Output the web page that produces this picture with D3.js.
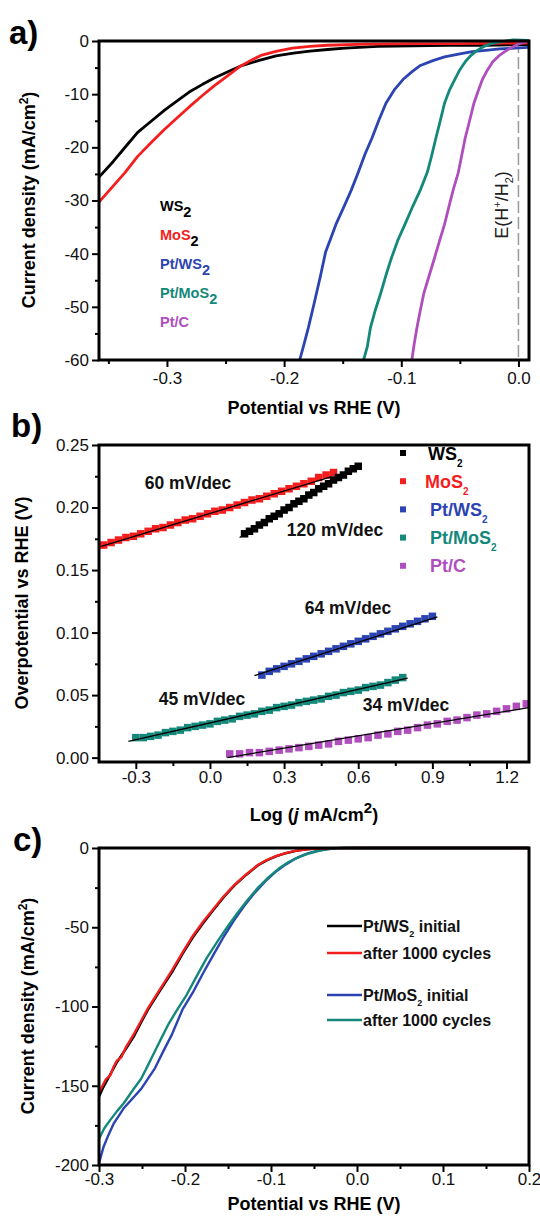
<!DOCTYPE html>
<html><head><meta charset="utf-8">
<script src="https://cdn.jsdelivr.net/npm/d3@7"></script>
<style>
body{margin:0;background:#fff}
svg{display:block}
text{font-family:"Liberation Sans",Arial,Helvetica,sans-serif}
</style>
</head><body>
<svg id="chart" width="540" height="1220"></svg>
<script>
// ================= DATA =================
// ---- Panel a: polarization curves (Potential V vs RHE, current density mA/cm2)
const aWS2_V = [-0.358,-0.346,-0.335,-0.325,-0.313,-0.302,-0.291,-0.281,-0.270,-0.260,-0.248,-0.237,-0.222,-0.207,-0.192,-0.178,-0.163,-0.148,-0.120,-0.090,-0.060,-0.030,0.000,0.009];
const aWS2_J = [-25.6,-22.7,-19.8,-17.2,-15.0,-13.0,-11.2,-9.6,-8.2,-7.0,-5.8,-4.7,-3.7,-2.8,-2.3,-1.9,-1.6,-1.35,-1.0,-0.9,-0.8,-0.8,-0.7,-0.7];
const aMoS2_V = [-0.358,-0.352,-0.346,-0.336,-0.325,-0.313,-0.302,-0.291,-0.281,-0.270,-0.260,-0.248,-0.237,-0.228,-0.219,-0.206,-0.193,-0.178,-0.163,-0.130,-0.090,-0.050,0.000,0.009];
const aMoS2_J = [-30.3,-28.8,-27.3,-24.8,-21.7,-19.0,-16.6,-14.4,-12.4,-10.3,-8.5,-6.5,-4.7,-3.6,-2.65,-1.9,-1.35,-1.0,-0.8,-0.6,-0.5,-0.5,-0.4,-0.4];
const aPtWS2_V = [-0.1867,-0.1830,-0.1793,-0.1740,-0.1690,-0.1646,-0.1600,-0.1558,-0.1490,-0.1426,-0.1367,-0.1310,-0.1249,-0.1190,-0.1131,-0.1060,-0.0984,-0.0910,-0.0837,-0.0730,-0.0631,-0.0500,-0.0395,-0.0260,-0.0162,0.0000,0.0090];
const aPtWS2_J = [-60,-57,-53.9,-49,-44.2,-39.7,-37,-34.5,-31.2,-28.0,-24.7,-21.3,-18.2,-14.8,-11.7,-9.2,-7.2,-5.8,-4.6,-3.7,-3.0,-2.4,-2.0,-1.7,-1.5,-1.3,-1.2];
const aPtMoS2_V = [-0.1322,-0.1290,-0.1263,-0.1220,-0.1175,-0.1130,-0.1087,-0.1030,-0.0969,-0.0900,-0.0837,-0.0778,-0.0740,-0.0704,-0.0665,-0.0631,-0.0590,-0.0543,-0.0500,-0.0454,-0.0410,-0.0366,-0.0310,-0.0262,-0.0200,-0.0130,-0.0042,0.0090];
const aPtMoS2_J = [-60,-57.5,-53.9,-50.5,-47.4,-44,-41.0,-37.5,-34.5,-31,-28.0,-24.7,-21.5,-18.2,-14.8,-11.7,-9.3,-7.2,-5.4,-3.9,-2.8,-2.0,-1.2,-0.7,-0.3,-0.06,0.2,0.1];
const aPtC_V = [-0.0910,-0.0890,-0.0866,-0.0837,-0.0807,-0.0763,-0.0719,-0.0675,-0.0631,-0.0594,-0.0557,-0.0513,-0.0484,-0.0454,-0.0417,-0.0380,-0.0344,-0.0307,-0.0263,-0.0219,-0.0168,-0.0117,-0.0065,-0.0014,0.0030,0.0075,0.0090];
const aPtC_J = [-60,-57,-53.9,-50.6,-47.4,-44.2,-41.0,-37.7,-34.5,-31.2,-28.0,-24.7,-21.5,-18.2,-15,-11.7,-9.4,-7.2,-5.4,-3.9,-2.8,-2.0,-1.3,-0.7,-0.3,-0.06,0];
const aSeriesNames = ["WS2","MoS2","Pt/WS2","Pt/MoS2","Pt/C"];
const aXTicks = [-0.3,-0.2,-0.1,0.0];
const aXTickLabels = ["-0.3","-0.2","-0.1","0.0"];
const aXMinor = [-0.35,-0.25,-0.15,-0.05];
const aYTicks = [0,-10,-20,-30,-40,-50,-60];
const aYTickLabels = ["0","-10","-20","-30","-40","-50","-60"];
const aYMinor = [-5,-15,-25,-35,-45,-55];
const aRefPotential = [0.0];

// ---- Panel b: Tafel plots (log j, overpotential V)
const bWS2_X = [0.14,0.16,0.18,0.20,0.22,0.24,0.26,0.28,0.30,0.32,0.34,0.36,0.38,0.40,0.42,0.44,0.46,0.48,0.50,0.52,0.54,0.56,0.58,0.60];
const bWS2_Y = [0.179,0.181,0.183,0.186,0.188,0.191,0.193,0.195,0.198,0.200,0.203,0.205,0.207,0.210,0.212,0.215,0.217,0.219,0.222,0.224,0.226,0.229,0.231,0.233];
const bMoS2_X = [-0.43,-0.40,-0.37,-0.34,-0.31,-0.28,-0.25,-0.22,-0.19,-0.16,-0.13,-0.10,-0.07,-0.04,-0.01,0.02,0.05,0.08,0.11,0.14,0.17,0.20,0.23,0.26,0.29,0.32,0.35,0.38,0.41,0.44,0.47,0.50];
const bMoS2_Y = [0.170,0.172,0.174,0.176,0.177,0.179,0.181,0.183,0.184,0.186,0.188,0.190,0.191,0.193,0.195,0.197,0.198,0.200,0.202,0.204,0.206,0.207,0.209,0.211,0.213,0.215,0.217,0.219,0.221,0.224,0.226,0.228];
const bPtWS2_X = [0.21,0.24,0.27,0.30,0.33,0.36,0.39,0.42,0.45,0.48,0.51,0.54,0.57,0.60,0.63,0.66,0.69,0.72,0.75,0.78,0.81,0.84,0.87,0.90];
const bPtWS2_Y = [0.066,0.069,0.071,0.073,0.075,0.077,0.079,0.081,0.083,0.085,0.087,0.089,0.091,0.093,0.095,0.097,0.099,0.101,0.103,0.105,0.107,0.109,0.111,0.113];
const bPtMoS2_X = [-0.30,-0.27,-0.24,-0.21,-0.18,-0.15,-0.12,-0.09,-0.06,-0.03,0.00,0.03,0.06,0.09,0.12,0.15,0.18,0.21,0.24,0.27,0.30,0.33,0.36,0.39,0.42,0.45,0.48,0.51,0.54,0.57,0.60,0.63,0.66,0.69,0.72,0.75,0.78];
const bPtMoS2_Y = [0.016,0.016,0.017,0.018,0.020,0.021,0.022,0.024,0.025,0.026,0.027,0.029,0.030,0.031,0.033,0.034,0.035,0.037,0.038,0.040,0.041,0.042,0.044,0.045,0.046,0.047,0.049,0.050,0.052,0.053,0.054,0.056,0.057,0.058,0.060,0.062,0.064];
const bPtC_X = [0.08,0.12,0.16,0.20,0.24,0.28,0.32,0.36,0.40,0.44,0.48,0.52,0.56,0.60,0.64,0.68,0.72,0.76,0.80,0.84,0.88,0.92,0.96,1.00,1.04,1.08,1.12,1.16,1.20,1.24,1.28];
const bPtC_Y = [0.003,0.003,0.004,0.004,0.005,0.006,0.007,0.008,0.009,0.010,0.011,0.013,0.014,0.015,0.016,0.018,0.019,0.021,0.022,0.024,0.026,0.027,0.029,0.030,0.032,0.034,0.035,0.037,0.039,0.041,0.043];
// Tafel fit segments [start, end]
const bFitWS2_X = [0.12,0.61],   bFitWS2_Y = [0.176,0.2348];
const bFitMoS2_X = [-0.44,0.49], bFitMoS2_Y = [0.169,0.2245];
const bFitPtWS2_X = [0.18,0.92], bFitPtWS2_Y = [0.0655,0.1125];
const bFitPtMoS2_X = [-0.33,0.80], bFitPtMoS2_Y = [0.013,0.0635];
const bFitPtC_X = [0.07,1.29],   bFitPtC_Y = [0.000,0.040];
const bSlopeLabels = ["120 mV/dec","60 mV/dec","64 mV/dec","45 mV/dec","34 mV/dec"];
const bSeriesNames = ["WS2","MoS2","Pt/WS2","Pt/MoS2","Pt/C"];
const bXTicks = [-0.3,0.0,0.3,0.6,0.9,1.2];
const bXTickLabels = ["-0.3","0.0","0.3","0.6","0.9","1.2"];
const bXMinor = [-0.15,0.15,0.45,0.75,1.05];
const bYTicks = [0.00,0.05,0.10,0.15,0.20,0.25];
const bYTickLabels = ["0.00","0.05","0.10","0.15","0.20","0.25"];
const bYMinor = [0.025,0.075,0.125,0.175,0.225];

// ---- Panel c: stability (initial vs after 1000 cycles)
const cPtWS2i_V = [-0.300,-0.295,-0.287,-0.279,-0.269,-0.259,-0.251,-0.243,-0.229,-0.215,-0.203,-0.191,-0.179,-0.167,-0.155,-0.143,-0.129,-0.115,-0.105,-0.095,-0.083,-0.071,-0.059,-0.047,-0.030,0.000,0.200];
const cPtWS2i_J = [-157,-151,-143,-135,-127,-118.5,-110,-102,-90,-78.3,-67,-56.5,-47.5,-39.1,-31,-23.9,-17,-10.9,-7.8,-5.4,-3.3,-1.8,-0.9,-0.4,-0.1,0,0];
const cPtWS2a_V = [-0.300,-0.296,-0.292,-0.287,-0.283,-0.279,-0.274,-0.269,-0.264,-0.259,-0.251,-0.243,-0.229,-0.215,-0.203,-0.191,-0.179,-0.167,-0.155,-0.143,-0.129,-0.115,-0.105,-0.095,-0.083,-0.071,-0.059,-0.047,-0.030,0.000,0.200];
const cPtWS2a_J = [-154,-150,-146,-143.5,-138,-134,-132,-126,-121.5,-117,-109,-101,-89,-77,-66,-55.5,-46.5,-38.5,-30.5,-23.5,-16.7,-10.6,-7.6,-5.2,-3.2,-1.7,-0.8,-0.4,-0.1,0,0];
const cPtMoS2i_V = [-0.300,-0.297,-0.295,-0.289,-0.283,-0.277,-0.271,-0.261,-0.251,-0.243,-0.235,-0.225,-0.215,-0.203,-0.191,-0.179,-0.167,-0.155,-0.143,-0.131,-0.119,-0.107,-0.095,-0.083,-0.071,-0.059,-0.047,-0.035,-0.023,-0.010,0.200];
const cPtMoS2i_J = [-198.9,-193,-189,-181,-173.9,-169,-164,-158,-152,-145.5,-139,-128,-117.4,-102,-91.3,-79,-67.4,-56,-45.6,-36.5,-28.3,-21.2,-15.2,-10.5,-6.5,-3.7,-1.8,-0.8,-0.1,0,0];
const cPtMoS2a_V = [-0.300,-0.294,-0.287,-0.279,-0.271,-0.261,-0.251,-0.243,-0.235,-0.227,-0.219,-0.209,-0.199,-0.187,-0.175,-0.163,-0.151,-0.139,-0.127,-0.115,-0.103,-0.091,-0.079,-0.067,-0.055,-0.043,-0.031,-0.015,0.200];
const cPtMoS2a_J = [-183.6,-177,-171.7,-166,-160.9,-153,-145.6,-137,-128.2,-119.5,-110.9,-102,-93.5,-81.5,-69.6,-59.5,-50,-41,-32.6,-25,-18.5,-13,-8.7,-5.6,-3.3,-1.6,-0.4,0,0];
const cSeriesNames = ["Pt/WS2 initial","after 1000 cycles","Pt/MoS2 initial","after 1000 cycles"];
const cXTicks = [-0.3,-0.2,-0.1,0.0,0.1,0.2];
const cXTickLabels = ["-0.3","-0.2","-0.1","0.0","0.1","0.2"];
const cXMinor = [-0.25,-0.15,-0.05,0.05,0.15];
const cYTicks = [0,-50,-100,-150,-200];
const cYTickLabels = ["0","-50","-100","-150","-200"];
const cYMinor = [-25,-75,-125,-175];

// ================= STYLE =================
const COL = {black:"#000000", red:"#f41e1e", blue:"#2c44b2", teal:"#14887a", mag:"#b04ebd"};
const svg = d3.select("#chart");
const zip = (a,b) => a.map((v,i)=>[v,b[i]]);

function axesAndFrame(g, x, y, o){
  const [x0,x1] = x.range(), [y0,y1] = y.range(); // y0 bottom, y1 top
  const gx = g.append("g").attr("transform",`translate(0,${y0})`)
    .call(d3.axisBottom(x).tickValues(o.xt).tickFormat((d,i)=>o.xtl[i]).tickSize(7).tickPadding(o.xpad).tickSizeOuter(0));
  const gxm = g.append("g").attr("transform",`translate(0,${y0})`)
    .call(d3.axisBottom(x).tickValues(o.xm).tickFormat("").tickSize(4).tickSizeOuter(0));
  const gy = g.append("g").attr("transform",`translate(${x0},0)`)
    .call(d3.axisLeft(y).tickValues(o.yt).tickFormat((d,i)=>o.ytl[i]).tickSize(7).tickPadding(3).tickSizeOuter(0));
  const gym = g.append("g").attr("transform",`translate(${x0},0)`)
    .call(d3.axisLeft(y).tickValues(o.ym).tickFormat("").tickSize(4).tickSizeOuter(0));
  [gx,gxm,gy,gym].forEach(a=>{
    a.select(".domain").remove();
    a.selectAll(".tick line").attr("stroke","#000").attr("stroke-width",2);
    a.selectAll(".tick text").attr("font-size",17).attr("fill","#111")
      .attr("font-family",'"Liberation Sans",Arial,sans-serif');
  });
  g.append("rect").attr("x",x0).attr("y",y1).attr("width",x1-x0).attr("height",y0-y1)
    .attr("fill","none").attr("stroke","#000").attr("stroke-width",3);
}

function subText(g, x, y, base, sub, rest, opts){
  const t = g.append("text").attr("x",x).attr("y",y)
    .attr("font-size",opts.fs).attr("font-weight",opts.fw||"bold")
    .attr("fill",opts.color).attr("text-anchor",opts.anchor||"start");
  t.append("tspan").text(base);
  if (sub) t.append("tspan").text(sub).attr("dy",opts.subDy).attr("font-size",opts.subFs)
      .attr("fill",opts.subColor||opts.color);
  if (rest) t.append("tspan").text(rest).attr("dy",-opts.subDy);
  return t;
}

function splitName(s){
  // returns [base, subscript, rest] for chemical names such as "Pt/MoS2 initial"
  const m = s.match(/^(.*S)(2)(.*)$/);
  return m ? [m[1], m[2], m[3]] : [s, "", ""];
}

// ================= PANEL a =================
{
  const g = svg.append("g");
  const x = d3.scaleLinear().domain([-0.358,0.009]).range([99,529]);
  const y = d3.scaleLinear().domain([-60,0]).range([360,41]);
  const line = d3.line().x(d=>x(d[0])).y(d=>y(d[1]));

  g.selectAll(".ref").data(aRefPotential).join("line")
    .attr("x1",d=>x(d)).attr("x2",d=>x(d)).attr("y1",y(0)).attr("y2",y(-60))
    .attr("stroke","#9a9a9a").attr("stroke-width",1.5).attr("stroke-dasharray","12,4");

  const series = [
    [zip(aWS2_V,aWS2_J), COL.black],
    [zip(aMoS2_V,aMoS2_J), COL.red],
    [zip(aPtWS2_V,aPtWS2_J), COL.blue],
    [zip(aPtMoS2_V,aPtMoS2_J), COL.teal],
    [zip(aPtC_V,aPtC_J), COL.mag]
  ];
  g.selectAll(".curve").data(series).join("path")
    .attr("d",d=>line(d[0])).attr("fill","none").attr("stroke",d=>d[1])
    .attr("stroke-width",2.8).attr("stroke-linejoin","round");

  axesAndFrame(g,x,y,{xt:aXTicks,xtl:aXTickLabels,xm:aXMinor,yt:aYTicks,ytl:aYTickLabels,ym:aYMinor,xpad:5});

  const legCols = [COL.black,COL.red,COL.blue,COL.teal,COL.mag];
  const subCols = [COL.black,COL.black,COL.blue,COL.teal,COL.mag];
  aSeriesNames.forEach((n,i)=>{
    const [b,s,r] = splitName(n);
    subText(g,160,211+i*29,b,s,r,{fs:14.5,subFs:14.5,subDy:6,color:legCols[i],subColor:subCols[i]});
  });

  const t = g.append("text").attr("transform","translate(508,205) rotate(-90)")
    .attr("text-anchor","middle").attr("font-size",18).attr("fill","#222");
  t.append("tspan").text("E(H");
  t.append("tspan").text("+").attr("dy",-7).attr("font-size",11);
  t.append("tspan").text("/H").attr("dy",7);
  t.append("tspan").text("2").attr("dy",5).attr("font-size",11);
  t.append("tspan").text(")").attr("dy",-5);

  g.append("text").attr("x",314).attr("y",414).attr("text-anchor","middle")
    .attr("font-size",18).attr("font-weight","bold").text("Potential vs RHE (V)");
  const yt = g.append("text").attr("transform","translate(35,200) rotate(-90)")
    .attr("text-anchor","middle").attr("font-size",18).attr("font-weight","bold");
  yt.append("tspan").text("Current density (mA/cm");
  yt.append("tspan").text("2").attr("dy",-7).attr("font-size",12);
  yt.append("tspan").text(")").attr("dy",7);

  g.append("text").attr("x",9).attr("y",44).attr("font-size",33).attr("font-weight","bold").text("a)");
}

// ================= PANEL b =================
{
  const g = svg.append("g");
  const x = d3.scaleLinear().domain([-0.449,1.291]).range([99,529]);
  const y = d3.scaleLinear().domain([-0.0035,0.25]).range([762,445]);
  const sq = 7.5;
  const pts = [
    [zip(bMoS2_X,bMoS2_Y), COL.red],
    [zip(bWS2_X,bWS2_Y), COL.black],
    [zip(bPtWS2_X,bPtWS2_Y), COL.blue],
    [zip(bPtMoS2_X,bPtMoS2_Y), COL.teal],
    [zip(bPtC_X,bPtC_Y), COL.mag]
  ];
  pts.forEach(([d,c])=>{
    g.append("g").selectAll("rect").data(d).join("rect")
      .attr("x",p=>x(p[0])-sq/2).attr("y",p=>y(p[1])-sq/2)
      .attr("width",sq).attr("height",sq).attr("fill",c);
  });
  const fits = [
    zip(bFitWS2_X,bFitWS2_Y), zip(bFitMoS2_X,bFitMoS2_Y), zip(bFitPtWS2_X,bFitPtWS2_Y),
    zip(bFitPtMoS2_X,bFitPtMoS2_Y), zip(bFitPtC_X,bFitPtC_Y)
  ];
  const line = d3.line().x(d=>x(d[0])).y(d=>y(d[1]));
  g.selectAll(".fit").data(fits).join("path").attr("d",line)
    .attr("fill","none").attr("stroke","#000").attr("stroke-width",1.3);

  axesAndFrame(g,x,y,{xt:bXTicks,xtl:bXTickLabels,xm:bXMinor,yt:bYTicks,ytl:bYTickLabels,ym:bYMinor,xpad:2});

  const slopePos = [[335,536],[188,489],[348,614],[202,705],[406,711]];
  bSlopeLabels.forEach((s,i)=>{
    g.append("text").attr("x",slopePos[i][0]).attr("y",slopePos[i][1]).attr("text-anchor","middle")
      .attr("font-size",17.5).attr("font-weight","bold").attr("fill","#111").text(s);
  });

  const legCols = [COL.black,COL.red,COL.blue,COL.teal,COL.mag];
  const textX = [428,425,430,430,430];
  bSeriesNames.forEach((n,i)=>{
    const cy = 453+i*28.2;
    g.append("rect").attr("x",403-3).attr("y",cy-3).attr("width",6).attr("height",6).attr("fill",legCols[i]);
    const [b,s,r] = splitName(n);
    subText(g,textX[i],cy+6.5,b,s,r,{fs:18,subFs:10,subDy:7,color:legCols[i]});
  });

  g.append("text").attr("transform","translate(28,603) rotate(-90)").attr("text-anchor","middle")
    .attr("font-size",18).attr("font-weight","bold").text("Overpotential vs RHE (V)");
  const xt = g.append("text").attr("x",314).attr("y",821).attr("text-anchor","middle")
    .attr("font-size",18).attr("font-weight","bold");
  xt.append("tspan").text("Log (");
  xt.append("tspan").text("j").attr("font-style","italic");
  xt.append("tspan").text(" mA/cm");
  xt.append("tspan").text("2").attr("dy",-8).attr("font-size",15);
  xt.append("tspan").text(")").attr("dy",8);

  g.append("text").attr("x",11).attr("y",437).attr("font-size",33).attr("font-weight","bold").text("b)");
}

// ================= PANEL c =================
{
  const g = svg.append("g");
  const x = d3.scaleLinear().domain([-0.3,0.2]).range([99,529]);
  const y = d3.scaleLinear().domain([-200,0]).range([1165,848]);
  const line = d3.line().x(d=>x(d[0])).y(d=>y(d[1]));
  const series = [
    [zip(cPtMoS2i_V,cPtMoS2i_J), COL.blue],
    [zip(cPtMoS2a_V,cPtMoS2a_J), COL.teal],
    [zip(cPtWS2i_V,cPtWS2i_J), COL.black],
    [zip(cPtWS2a_V,cPtWS2a_J), COL.red]
  ];
  g.selectAll(".curve").data(series).join("path")
    .attr("d",d=>line(d[0])).attr("fill","none").attr("stroke",d=>d[1])
    .attr("stroke-width",2.4).attr("stroke-linejoin","round");

  axesAndFrame(g,x,y,{xt:cXTicks,xtl:cXTickLabels,xm:cXMinor,yt:cYTicks,ytl:cYTickLabels,ym:cYMinor,xpad:1});

  const legCols = [COL.black,COL.red,COL.blue,COL.teal];
  const rows = [926,953,995,1020];
  cSeriesNames.forEach((n,i)=>{
    g.append("line").attr("x1",327).attr("x2",362).attr("y1",rows[i]).attr("y2",rows[i])
      .attr("stroke",legCols[i]).attr("stroke-width",2.5);
    const [b,s,r] = splitName(n);
    subText(g,363,rows[i]+6,b,s,r,{fs:16,subFs:9,subDy:5,color:"#111"});
  });

  g.append("text").attr("x",314).attr("y",1210).attr("text-anchor","middle")
    .attr("font-size",18).attr("font-weight","bold").text("Potential vs RHE (V)");
  const yt = g.append("text").attr("transform","translate(34,1006) rotate(-90)")
    .attr("text-anchor","middle").attr("font-size",18).attr("font-weight","bold");
  yt.append("tspan").text("Current density (mA/cm");
  yt.append("tspan").text("2").attr("dy",-7).attr("font-size",12);
  yt.append("tspan").text(")").attr("dy",7);

  g.append("text").attr("x",13).attr("y",851).attr("font-size",33).attr("font-weight","bold").text("c)");
}
</script>
</body></html>
